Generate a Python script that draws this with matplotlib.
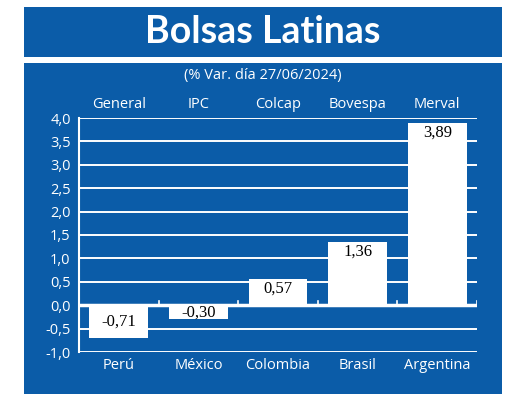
import matplotlib
matplotlib.use("Agg")
import matplotlib.pyplot as plt
import matplotlib.patches as patches

indices = ["General", "IPC", "Colcap", "Bovespa", "Merval"]
countries = ["Perú", "México", "Colombia", "Brasil", "Argentina"]
values = [-0.71, -0.30, 0.57, 1.36, 3.89]
yticks = [-1.0, -0.5, 0.0, 0.5, 1.0, 1.5, 2.0, 2.5, 3.0, 3.5, 4.0]

blue = "#0b5ca8"
plt.rcParams["font.family"] = ["Open Sans", "DejaVu Sans"]

fig = plt.figure(figsize=(5.2, 4.17), dpi=100)
fig.patch.set_facecolor("white")
W, H = 520, 417

def box(x0, y0, x1, y1):
    fig.add_artist(patches.Rectangle((x0 / W, 1 - y1 / H), (x1 - x0) / W, (y1 - y0) / H,
                                     transform=fig.transFigure, facecolor=blue, edgecolor="none", zorder=0))

box(24, 7, 502, 57)
box(24, 63, 502, 394)
fig.text(263 / W, 1 - 32 / H, "Bolsas Latinas", color="white", fontsize=27, fontweight="bold",
         ha="center", va="center", family=["Lato", "DejaVu Sans"])
fig.text(263 / W, 1 - 76 / H, "(% Var. día 27/06/2024)", color="white", fontsize=10.5, ha="center", va="center")

ax = fig.add_axes([79 / W, 1 - 352 / H, 398 / W, 234 / H])
ax.set_facecolor(blue)
ax.set_xlim(-0.5, 4.5)
ax.set_ylim(-1.0, 4.0)
ax.set_yticks(yticks)
ax.set_yticklabels([f"{t:.1f}".replace(".", ",") for t in yticks], color="white", fontsize=10.5)
ax.tick_params(axis="y", length=0, pad=6)
ax.set_xticks(range(5))
ax.set_xticklabels(countries, color="white", fontsize=10.5)
ax.tick_params(axis="x", length=0, pad=4)
for s in ["top", "right", "bottom"]:
    ax.spines[s].set_visible(False)
ax.spines["left"].set_color("white")
ax.spines["left"].set_linewidth(1.5)
for t in yticks:
    ax.axhline(t, color="white", linewidth=1.4 if t else 2.5, zorder=1)
for i in range(5):
    ax.plot([i + 0.5, i + 0.5], [0, 0.1], color="white", linewidth=1.2, zorder=1)

ax.bar(range(5), values, width=0.74, color="white", zorder=2)
for i, v in enumerate(values):
    lab = f"{v:.2f}".replace(".", ",")
    if v >= 0:
        ax.text(i, v - 0.04, lab, ha="center", va="top", fontsize=12, color="black", zorder=3,
                family=["Liberation Serif", "DejaVu Serif"])
    else:
        ax.text(i, v / 2, lab, ha="center", va="center", fontsize=12, color="black", zorder=3,
                family=["Liberation Serif", "DejaVu Serif"])
    ax.text(i, 4.12, indices[i], ha="center", va="bottom", color="white", fontsize=10.5)

fig.savefig("out.png", dpi=100, facecolor="white")
